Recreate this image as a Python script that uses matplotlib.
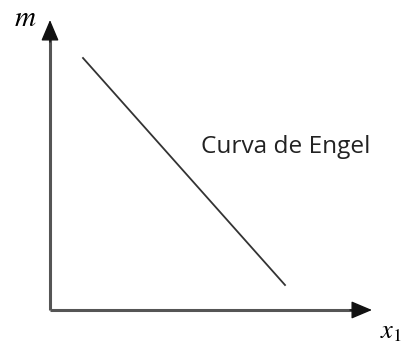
import matplotlib
matplotlib.use('Agg')
import matplotlib.pyplot as plt

# Engel curve (x1 against income m), in arbitrary units
engel_x = [33, 235]
engel_m = [252, 25]
axis_len_x = 322
axis_len_m = 290
label_curve = 'Curva de Engel'

plt.rcParams['mathtext.fontset'] = 'stix'

fig = plt.figure(figsize=(4.07, 3.43), dpi=100)
ax = fig.add_axes([0, 0, 1, 1])
ax.set_xlim(-50, 357)
ax.set_ylim(-33, 310)
ax.axis('off')

# Axes lines and arrow heads
ax.plot([0, axis_len_x - 18], [0, 0], color='#555555', lw=2.2, solid_capstyle='butt')
ax.plot([0, 0], [0, axis_len_m - 18], color='#555555', lw=2.2, solid_capstyle='butt')
ax.annotate('', xy=(axis_len_x, 0), xytext=(axis_len_x - 22, 0),
            arrowprops=dict(arrowstyle='-|>,head_length=1.3,head_width=0.55',
                            color='#111111', lw=1, shrinkA=0, shrinkB=0))
ax.annotate('', xy=(0, axis_len_m), xytext=(0, axis_len_m - 22),
            arrowprops=dict(arrowstyle='-|>,head_length=1.3,head_width=0.55',
                            color='#111111', lw=1, shrinkA=0, shrinkB=0))

# Engel curve
ax.plot(engel_x, engel_m, color='#333333', lw=1.3)

ax.text(-25, 292, r'$m$', fontsize=21, ha='center', va='center')
ax.text(341, -21, r'$x_1$', fontsize=19, ha='center', va='center')
ax.text(236, 163, label_curve, fontsize=17.6, family='Open Sans',
        ha='center', va='center', color='#222222')

fig.savefig('out.png', dpi=100)
